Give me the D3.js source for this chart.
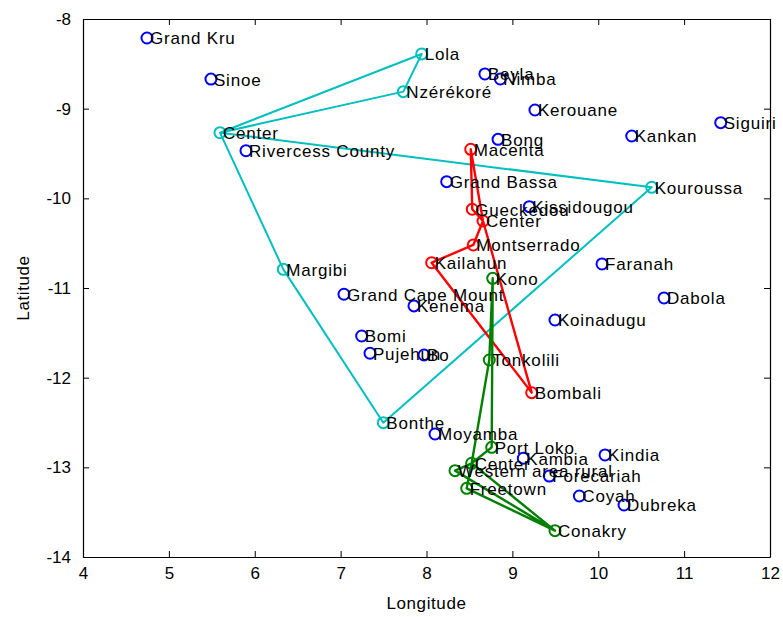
<!DOCTYPE html>
<html>
<head>
<meta charset="utf-8">
<script src="https://cdn.jsdelivr.net/npm/d3@7"></script>
<style>
  html, body { margin: 0; padding: 0; background: #fff; }
  svg { display: block; font-family: "Liberation Sans", Arial, Helvetica, sans-serif; }
  .label { font-size: 17px; letter-spacing: 0.8px; fill: #000; }
  .tick text { font-size: 17px; fill: #000; }
  .axis-title { font-size: 17px; letter-spacing: 0.6px; fill: #000; }
</style>
</head>
<body>
<svg id="chart" width="783" height="617"></svg>
<script>
// Axis ranges and tick labels
const xTicks = [4, 5, 6, 7, 8, 9, 10, 11, 12];
const yTicks = [-14, -13, -12, -11, -10, -9, -8];

// Stand-alone locations (blue markers): [name, longitude, latitude]
const sites = [
  ["Grand Kru", 4.745, -8.212],
  ["Sinoe", 5.49, -8.67],
  ["Rivercess County", 5.898, -9.469],
  ["Beyla", 8.68, -8.613],
  ["Nimba", 8.86, -8.669],
  ["Kerouane", 9.263, -9.015],
  ["Bong", 8.833, -9.342],
  ["Kankan", 10.39, -9.305],
  ["Siguiri", 11.426, -9.156],
  ["Grand Bassa", 8.235, -9.814],
  ["Kissidougou", 9.197, -10.093],
  ["Faranah", 10.044, -10.732],
  ["Dabola", 10.766, -11.111],
  ["Grand Cape Mount", 7.039, -11.07],
  ["Kenema", 7.854, -11.2],
  ["Koinadugu", 9.496, -11.357],
  ["Bomi", 7.245, -11.535],
  ["Pujehun", 7.342, -11.728],
  ["Bo", 7.971, -11.747],
  ["Moyamba", 8.099, -12.628],
  ["Kambia", 9.127, -12.899],
  ["Kindia", 10.079, -12.862],
  ["Forecariah", 9.43, -13.097],
  ["Coyah", 9.78, -13.32],
  ["Dubreka", 10.3, -13.42]
];

// Cluster 1 (cyan): nodes and tour order
const cyanNodes = [
  ["Center", 5.595, -9.268],
  ["Lola", 7.944, -8.39],
  ["Nzérékoré", 7.73, -8.81],
  ["Kouroussa", 10.622, -9.877],
  ["Margibi", 6.333, -10.792],
  ["Bonthe", 7.497, -12.502]
];
const cyanTour = ["Center", "Lola", "Nzérékoré", "Center", "Kouroussa", "Bonthe", "Margibi", "Center"];

// Cluster 2 (red)
const redNodes = [
  ["Macenta", 8.515, -9.453],
  ["Gueckedou", 8.533, -10.122],
  ["Center", 8.658, -10.253],
  ["Montserrado", 8.545, -10.52],
  ["Kailahun", 8.06, -10.718],
  ["Bombali", 9.225, -12.167]
];
const redTour = ["Center", "Macenta", "Gueckedou", "Center", "Montserrado", "Kailahun", "Bombali", "Center"];

// Cluster 3 (green)
const greenNodes = [
  ["Kono", 8.771, -10.892],
  ["Tonkolili", 8.731, -11.803],
  ["Port Loko", 8.759, -12.777],
  ["Center", 8.526, -12.955],
  ["Western area rural", 8.332, -13.037],
  ["Freetown", 8.468, -13.234],
  ["Conakry", 9.496, -13.706]
];
const greenTour = ["Center", "Port Loko", "Kono", "Tonkolili", "Center", "Western area rural", "Conakry", "Freetown", "Center", "Conakry"];

const svg = d3.select("#chart");
const x = d3.scaleLinear().domain([4, 12]).range([83, 770]);
const y = d3.scaleLinear().domain([-14, -8]).range([557, 19]);

// Axes with inward ticks on all four sides
const fmt = d => String(d);
svg.append("g").attr("transform", `translate(0,${y(-14)})`)
  .call(d3.axisBottom(x).tickValues(xTicks).tickFormat(fmt).tickSizeInner(-6).tickSizeOuter(0).tickPadding(10));
svg.append("g").attr("transform", `translate(0,${y(-8)})`)
  .call(d3.axisTop(x).tickValues(xTicks).tickFormat("").tickSizeInner(-6).tickSizeOuter(0));
svg.append("g").attr("transform", `translate(${x(4)},0)`)
  .call(d3.axisLeft(y).tickValues(yTicks).tickFormat(fmt).tickSizeInner(-6).tickSizeOuter(0).tickPadding(12));
svg.append("g").attr("transform", `translate(${x(12)},0)`)
  .call(d3.axisRight(y).tickValues(yTicks).tickFormat("").tickSizeInner(-6).tickSizeOuter(0));
svg.selectAll(".domain").attr("stroke", "#000").attr("stroke-width", 1.2);
svg.selectAll(".tick line").attr("stroke", "#000");
svg.selectAll(".tick text").attr("fill", "#000");

svg.append("text").attr("class", "axis-title")
  .attr("x", (x(4) + x(12)) / 2).attr("y", 609).attr("text-anchor", "middle").text("Longitude");
svg.append("text").attr("class", "axis-title")
  .attr("transform", `translate(29,${(y(-8) + y(-14)) / 2}) rotate(-90)`)
  .attr("text-anchor", "middle").text("Latitude");

const plot = svg.append("g");
const line = d3.line().x(d => x(d[1])).y(d => y(d[2]));

function drawCluster(nodes, tour, color, width) {
  const byName = new Map(nodes.map(n => [n[0], n]));
  plot.append("path")
    .datum(tour.map(n => byName.get(n)))
    .attr("d", line)
    .attr("fill", "none")
    .attr("stroke", color)
    .attr("stroke-width", width)
    .attr("stroke-linejoin", "round");
  plot.selectAll(null).data(nodes).enter().append("circle")
    .attr("cx", d => x(d[1])).attr("cy", d => y(d[2])).attr("r", 5.5)
    .attr("fill", "none").attr("stroke", color).attr("stroke-width", 2);
}

// Stand-alone markers
plot.selectAll(null).data(sites).enter().append("circle")
  .attr("cx", d => x(d[1])).attr("cy", d => y(d[2])).attr("r", 5.5)
  .attr("fill", "none").attr("stroke", "#0000ff").attr("stroke-width", 2);

drawCluster(cyanNodes, cyanTour, "#00bfbf", 2);
drawCluster(redNodes, redTour, "#ff0000", 2.4);
drawCluster(greenNodes, greenTour, "#008000", 2.4);

// Place names beside every marker
const allLabels = sites.concat(cyanNodes, redNodes, greenNodes);
plot.selectAll(null).data(allLabels).enter().append("text")
  .attr("class", "label")
  .attr("x", d => x(d[1]) + 3)
  .attr("y", d => y(d[2]))
  .attr("dy", "0.38em")
  .text(d => d[0]);
</script>
</body>
</html>
